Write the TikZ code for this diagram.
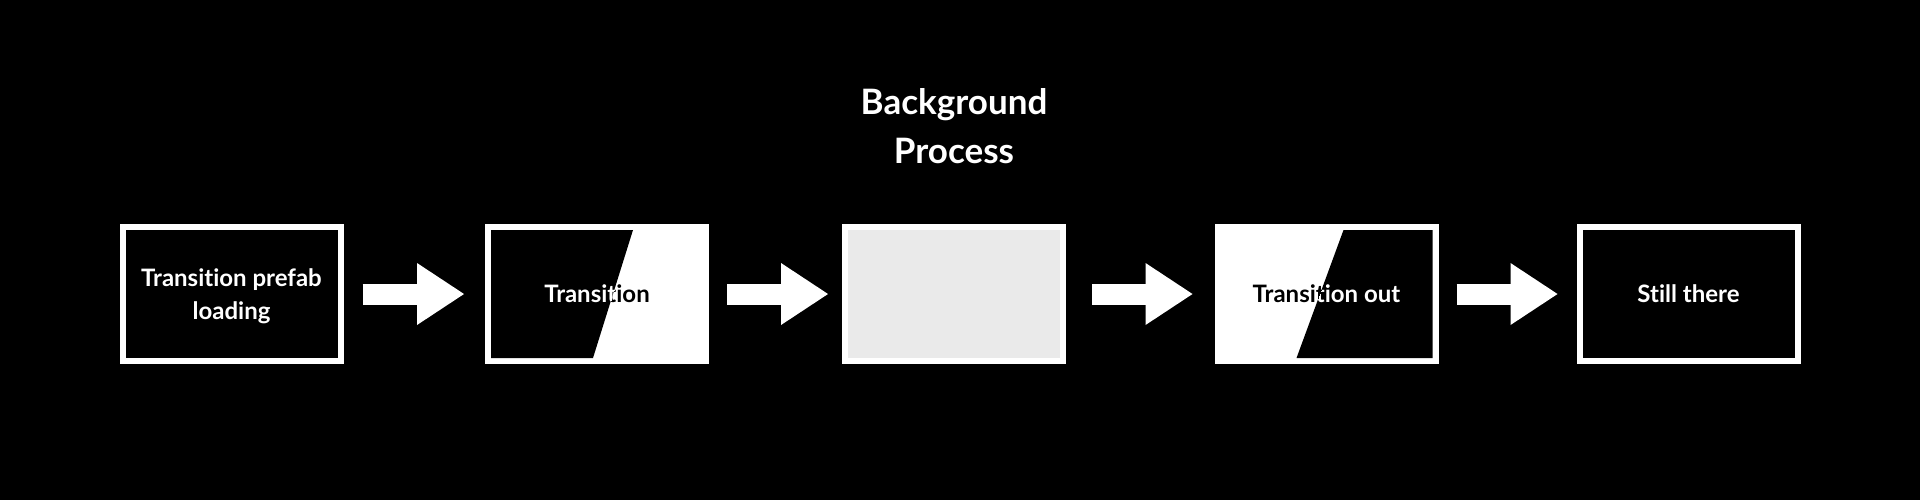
\documentclass[tikz,border=0pt]{standalone}
\usepackage{fontspec}
\setmainfont{Lato}[Ligatures={NoCommon}]
\usepackage{tikz}
\usetikzlibrary{arrows.meta, calc}

\definecolor{waitgrey}{HTML}{EAEAEA}

\begin{document}
\begin{tikzpicture}[x=0.5pt, y=-0.5pt,
    stage/.style={draw=white, line width=3pt, minimum width=109pt, minimum height=67pt, inner sep=0pt, text depth=0pt, align=center, font=\fontsize{12}{16.5}\selectfont\bfseries},
    flow/.style={draw=white, line width=10.5pt, -{Triangle[length=23.5pt, width=31pt, line width=0pt]}, shorten <=9.5pt, shorten >=10pt}]
    \fill[black] (0,0) rectangle (1920,500);
    \useasboundingbox (0,0) rectangle (1920,500);

    \node[font=\fontsize{17.5}{24.5}\selectfont\bfseries, text=white, align=center] (title) at (954,126) {Background\\Process};

    \node[stage, fill=black, text=white] (load) at (231.5,294) {Transition prefab\\loading};
    \node[stage, fill=white, text=black] (tin) at (597,294) {Transition};
    \node[stage, fill=waitgrey] (bg) at (954,294) {};
    \node[stage, fill=white, text=black] (tout) at (1326.5,294) {Transition out};
    \node[stage, fill=black, text=white] (still) at (1688.5,294) {Still there};

    % black half of the wipe in
    \begin{scope}
        \clip ($(tin.north west)+(6,6)$) -- ($(tin.north west)+(148,6)$) -- ($(tin.south west)+(108,-6)$) -- ($(tin.south west)+(6,-6)$) -- cycle;
        \fill[black] (tin.north west) rectangle (tin.south east);
        \node[stage, draw=none, text=white] (tinlabel) at (tin) {Transition};
    \end{scope}

    % black half of the wipe out
    \begin{scope}
        \clip ($(tout.north west)+(129,6)$) -- ($(tout.north east)+(-6,6)$) -- ($(tout.south east)+(-6,-6)$) -- ($(tout.south west)+(82,-6)$) -- cycle;
        \fill[black] (tout.north west) rectangle (tout.south east);
        \node[stage, draw=none, text=white] (toutlabel) at (tout) {Transition out};
    \end{scope}

    \draw[flow, shorten >=10.5pt] (load) -- (tin);
    \draw[flow, shorten <=9pt, shorten >=7pt] (tin) -- (bg);
    \draw[flow, shorten <=13pt, shorten >=11pt] (bg) -- (tout);
    \draw[flow, shorten <=9pt, shorten >=9.5pt] (tout) -- (still);
\end{tikzpicture}
\end{document}
